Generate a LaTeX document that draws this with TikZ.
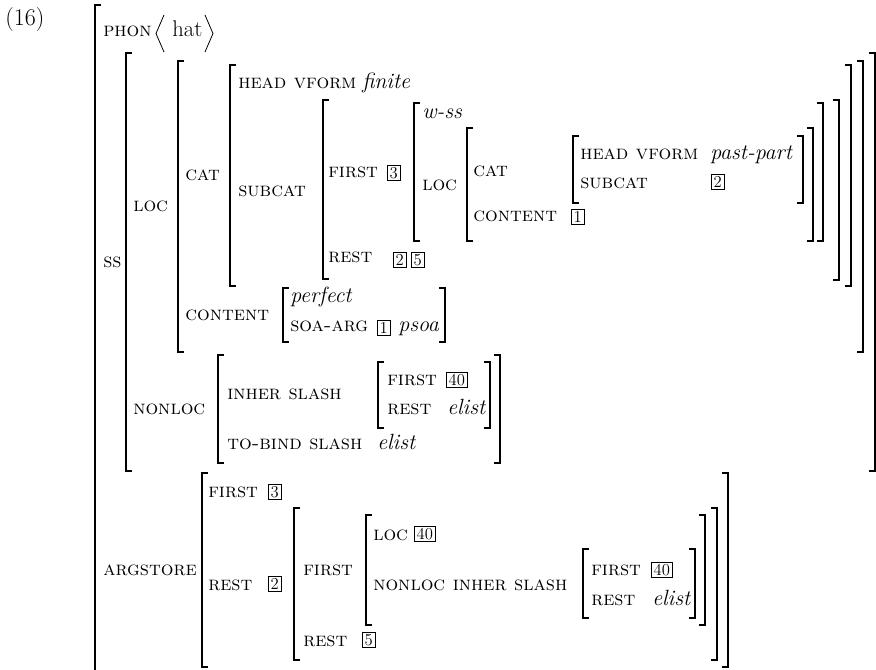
\documentclass[tikz,border=0pt]{standalone}
\begin{document}
\newcommand\avmL[3]{\draw[brk] ({#1+6},#2) -- (#1,#2) -- (#1,#3) -- ({#1+6},#3);}
\newcommand\avmR[3]{\draw[brk] ({#1-6},#2) -- (#1,#2) -- (#1,#3) -- ({#1-6},#3);}
\begin{tikzpicture}[x=0.75pt,y=-0.75pt,
  brk/.style={line width=0.8pt},
  lab/.style={anchor=base west, inner sep=0pt, font=\fontsize{15}{17}\selectfont\scshape},
  val/.style={anchor=base west, inner sep=0pt, font=\fontsize{16.5}{18}\selectfont\itshape},
  rm/.style={anchor=base west, inner sep=0pt, font=\fontsize{17}{19}\selectfont},
  tag/.style={draw, line width=0.5pt, anchor=west, inner xsep=1.8pt, inner ysep=1.6pt,
    text height=8pt, text depth=0pt, font=\fontsize{12.5}{12.5}\selectfont}]
\useasboundingbox (0,0) rectangle (876,670);
\clip (0,0) rectangle (876,670);
% example number
\node[rm, font=\fontsize{18}{20}\selectfont] (ex) at (5,26) {(16)};
% outer matrix
\draw[brk] (101,5) -- (95,5) -- (95,700);
\node[lab] (phon) at (103,37) {phon};
\draw[line width=0.6pt] (164,15) -- (156,33.5) -- (164,52);
\node[rm] (hat) at (172,37) {hat};
\draw[line width=0.6pt] (205,15) -- (213,33.5) -- (205,52);
% SS
\node[lab] (ss) at (103,268) {ss};
\avmL{126}{53}{471}\avmR{875}{53}{471}
% LOC
\node[lab] (loc) at (133,212) {loc};
\avmL{178}{61}{352}\avmR{863}{61}{352}
% CAT
\node[lab] (cat) at (185,181) {cat};
\avmL{230}{65}{286}\avmR{851}{65}{286}
\node[lab] (headvf) at (238,89) {head vform};
\node[val] (finite) at (362,89) {finite};
\node[lab] (subcat) at (238,197) {subcat};
\avmL{323}{100}{279}\avmR{839}{100}{280}
\node[lab] (first1) at (328,178) {first};
\node[tag] (t3a) at (387,173) {3};
\avmL{414}{103}{241}\avmR{823}{103}{241}
\node[val] (wss) at (422,119) {w-ss};
\node[lab] (loc2) at (422,191) {loc};
\avmL{467}{128}{241}\avmR{813}{128}{241}
\node[lab] (cat2) at (473,177) {cat};
\node[lab] (cont2) at (473,222) {content};
\node[tag] (t1a) at (571,217) {1};
\avmL{573}{136}{203}\avmR{803}{136}{203}
\node[lab] (headvf2) at (580,160) {head vform};
\node[val] (pastpart) at (710,160) {past-part};
\node[lab] (subcat2) at (580,189) {subcat};
\node[tag] (t2a) at (711,182) {2};
\node[lab] (rest1) at (328,263) {rest};
\node[tag] (t2b) at (393,260) {2};
\node[tag] (t5a) at (411,260) {5};
% CONTENT
\node[lab] (cont) at (185,321) {content};
\avmL{283}{288}{342}\avmR{445}{288}{342}
\node[val] (perfect) at (290,303) {perfect};
\node[lab] (soa) at (290,332) {soa-arg};
\node[tag] (t1b) at (377,328) {1};
\node[val] (psoa) at (398,332) {psoa};
% NONLOC
\node[lab] (nonloc) at (133,415) {nonloc};
\avmL{218}{355}{463}\avmR{500}{355}{463}
\node[lab] (inher) at (227,400) {inher slash};
\avmL{378}{362}{428}\avmR{490}{362}{428}
\node[lab] (first2) at (387,386) {first};
\node[tag] (t40a) at (446,380) {40};
\node[lab] (rest2) at (387,415) {rest};
\node[val] (elist1) at (447,415) {elist};
\node[lab] (tobind) at (227,450) {to-bind slash};
\node[val] (elist2) at (377,450) {elist};
% ARGSTORE
\node[lab] (argst) at (103,576) {argstore};
\avmL{202}{473}{667}\avmR{728}{473}{667}
\node[lab] (first3) at (208,498) {first};
\node[tag] (t3b) at (268,492) {3};
\node[lab] (rest3) at (208,590) {rest};
\node[tag] (t2c) at (268,584) {2};
\avmL{294}{508}{660}\avmR{717}{508}{660}
\node[lab] (first4) at (303,576) {first};
\avmL{366}{515}{625}\avmR{705}{515}{625}
\node[lab] (loc3) at (373,541) {loc};
\node[tag] (t40b) at (414,534) {40};
\node[lab] (nonloc2) at (373,590) {nonloc inher slash};
\avmL{583}{549}{618}\avmR{695}{549}{618}
\node[lab] (first5) at (591,576) {first};
\node[tag] (t40c) at (651,570) {40};
\node[lab] (rest5) at (591,605) {rest};
\node[val] (elist3) at (652,605) {elist};
\node[lab] (rest4) at (303,647) {rest};
\node[tag] (t5b) at (362,640) {5};
\end{tikzpicture}
\end{document}
